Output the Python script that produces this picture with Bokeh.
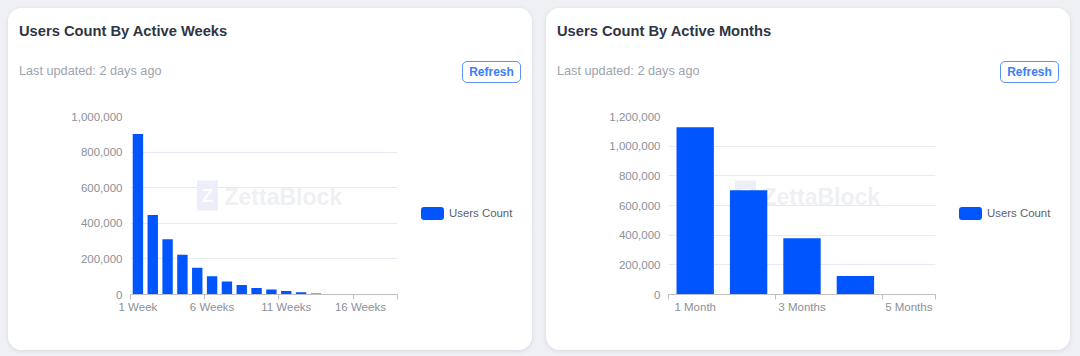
import numpy as np
from bokeh.plotting import figure
from bokeh.layouts import row, column
from bokeh.models import (Range1d, FixedTicker, NumeralTickFormatter, Label, Div,
                          ColumnDataSource, Spacer)
from bokeh.embed import file_html
from bokeh.resources import INLINE

# ---------------- data ----------------
week_cats = ["1 Week", "2 Weeks", "3 Weeks", "4 Weeks", "5 Weeks", "6 Weeks",
             "7 Weeks", "8 Weeks", "9 Weeks", "10 Weeks", "11 Weeks", "12 Weeks",
             "13 Weeks", "14 Weeks", "15 Weeks", "16 Weeks", "17 Weeks", "18 Weeks"]
week_counts = [902000, 446000, 311000, 223000, 150000, 103000, 73000, 54000,
               37000, 28000, 20000, 12000, 6000, 2500, 1200, 600, 300, 150]
week_yticks = [0, 200000, 400000, 600000, 800000, 1000000]

month_cats = ["1 Month", "2 Months", "3 Months", "4 Months", "5 Months"]
month_counts = [1128000, 703000, 380000, 124000, 1500]
month_yticks = [0, 200000, 400000, 600000, 800000, 1000000, 1200000]

titles = ["Users Count By Active Weeks", "Users Count By Active Months"]
subtitle = "Last updated: 2 days ago"
button_text = "Refresh"
series_name = "Users Count"
watermark = "ZettaBlock"

FONT = "Liberation Sans"
BAR = "#0055ff"
AXIS_GRAY = "#bfbfbf"
LABEL_GRAY = "#8c9099"
PAGE_BG = "#eef0f4"

CARD_W, CARD_H = 524, 342
HEAD_H = 90
FL, FR, FT, FB = 122, 5, 18, 56
FW, FH = 267, 178
CHART_W = FL + FW + FR
CHART_H = FT + FH + FB
LEG_W = CARD_W - CHART_W


def make_header(title):
    html = (
        f'<div style="position:relative;width:{CARD_W}px;height:{HEAD_H}px;'
        f'font-family:\'{FONT}\';background:white;">'
        f'<div style="position:absolute;left:11px;top:14px;font-size:14.7px;'
        f'line-height:18px;font-weight:bold;color:#2e3545;white-space:nowrap;">{title}</div>'
        f'<div style="position:absolute;left:11px;top:55px;font-size:12.7px;'
        f'line-height:16px;color:#9ea3ad;white-space:nowrap;">{subtitle}</div>'
        f'<div style="position:absolute;left:454px;top:53px;width:59px;height:22px;'
        f'box-sizing:border-box;border:1px solid #5e92f3;border-radius:5px;'
        f'font-size:12px;line-height:20px;font-weight:bold;color:#3d7ef5;'
        f'text-align:center;">{button_text}</div>'
        f'</div>'
    )
    return Div(text=html, width=CARD_W, height=HEAD_H, margin=0)


def make_legend():
    html = (
        f'<div style="position:relative;width:{LEG_W}px;height:{CHART_H}px;'
        f'font-family:\'{FONT}\';background:white;">'
        f'<div style="position:absolute;left:19px;top:109px;width:23px;height:13px;'
        f'border-radius:3px;background:{BAR};"></div>'
        f'<div style="position:absolute;left:47px;top:108px;font-size:11.4px;'
        f'line-height:15px;color:#5a5f69;white-space:nowrap;">{series_name}</div>'
        f'</div>'
    )
    return Div(text=html, width=LEG_W, height=CHART_H, margin=0)


def make_chart(cats, counts, yticks, every):
    n = len(cats)
    xs = list(range(1, n + 1))
    src = ColumnDataSource(dict(x=xs, y=counts, cat=cats))
    p = figure(frame_width=FW, frame_height=FH, output_backend="svg", toolbar_location=None,
               x_range=Range1d(0.5, n + 0.5), y_range=Range1d(0, yticks[-1]),
               min_border_left=FL, min_border_right=FR, min_border_top=FT,
               min_border_bottom=FB, background_fill_color="white",
               border_fill_color="white", outline_line_color=None)

    # watermark (behind bars)
    p.add_layout(Label(x=77, y=99, x_units="screen", y_units="screen", text="Z",
                       text_font=FONT, text_font_style="bold", text_font_size="18px",
                       text_color="white", text_align="center", text_baseline="middle",
                       background_fill_color="#eceef9", padding=5, level="underlay"))
    p.add_layout(Label(x=94, y=98, x_units="screen", y_units="screen", text=watermark,
                       text_font=FONT, text_font_style="bold", text_font_size="23px",
                       text_color="#eff0f4", text_baseline="middle", level="underlay"))

    p.vbar(x="x", top="y", width=0.7, source=src, fill_color=BAR, line_color=None)

    # axes
    label_pos = xs[::every]
    bounds = [x - 0.5 for x in label_pos] + [n + 0.5]
    xa = p.xaxis[0]
    xa.ticker = FixedTicker(ticks=label_pos, minor_ticks=bounds)
    xa.major_label_overrides = {x: cats[x - 1] for x in label_pos}
    xa.axis_line_color = AXIS_GRAY
    xa.major_tick_line_color = None
    xa.major_tick_out = 0
    xa.major_tick_in = 0
    xa.minor_tick_line_color = AXIS_GRAY
    xa.minor_tick_out = 5
    xa.minor_tick_in = 0
    xa.major_label_standoff = 1
    xa.major_label_text_font = FONT
    xa.major_label_text_font_size = "11.5px"
    xa.major_label_text_color = LABEL_GRAY

    ya = p.yaxis[0]
    ya.ticker = FixedTicker(ticks=yticks)
    ya.formatter = NumeralTickFormatter(format="0,0")
    ya.axis_line_color = None
    ya.major_tick_line_color = None
    ya.minor_tick_line_color = None
    ya.major_tick_out = 0
    ya.major_tick_in = 0
    ya.major_label_standoff = 8
    ya.major_label_text_font = FONT
    ya.major_label_text_font_size = "11.5px"
    ya.major_label_text_color = LABEL_GRAY

    p.xgrid.grid_line_color = None
    p.ygrid.grid_line_color = "#e6eaf3"
    p.ygrid.grid_line_width = 1
    return p


CARD_STYLE = {"border-radius": "14px", "overflow": "hidden",
              "background-color": "white",
              "box-shadow": "0 1px 4px rgba(30,40,70,0.12)"}


def make_card(title, cats, counts, yticks, every):
    body = row(make_chart(cats, counts, yticks, every), make_legend(),
               width=CARD_W, height=CHART_H)
    return column(make_header(title), body, width=CARD_W, height=CARD_H,
                  styles=CARD_STYLE)


card1 = make_card(titles[0], week_cats, week_counts, week_yticks, 5)
card2 = make_card(titles[1], month_cats, month_counts, month_yticks, 2)

layout = column(Spacer(width=1080, height=8),
                row(Spacer(width=8, height=CARD_H), card1, Spacer(width=14, height=CARD_H),
                    card2, Spacer(width=10, height=CARD_H),
                    width=1080, height=CARD_H),
                Spacer(width=1080, height=6),
                width=1080, height=356,
                styles={"background-color": PAGE_BG})

open("out.html", "w").write(file_html(layout, INLINE))
